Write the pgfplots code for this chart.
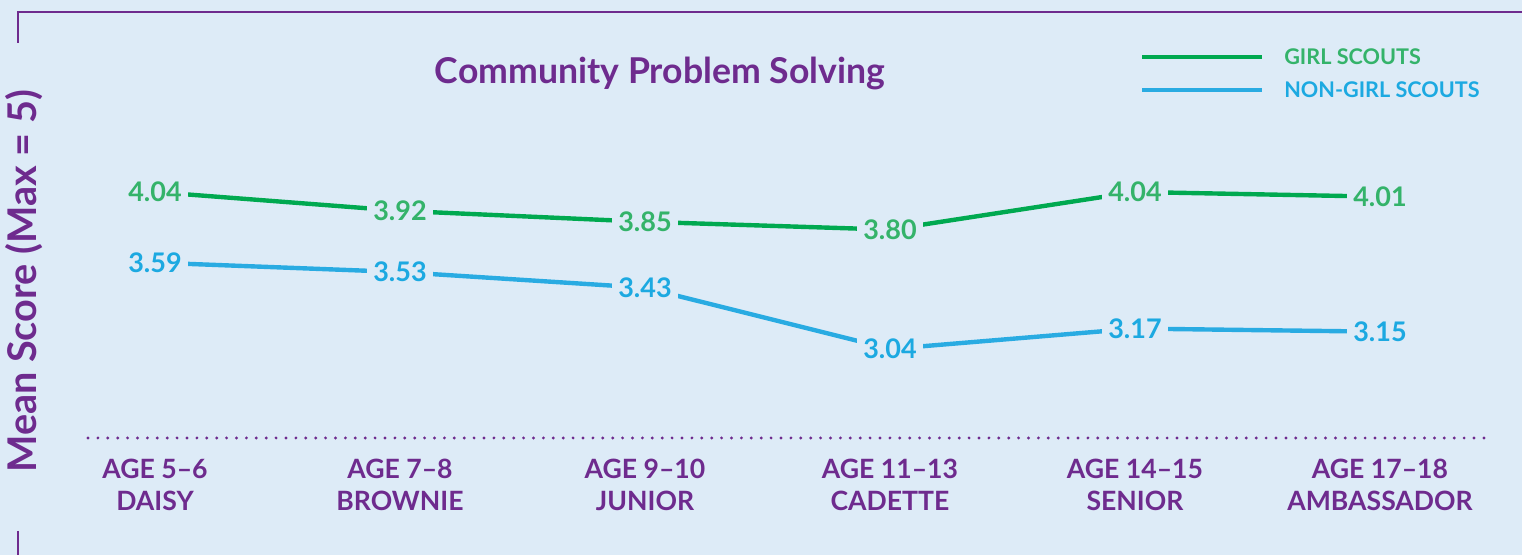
\documentclass[border=0pt]{standalone}
\usepackage{fontspec}
\setmainfont{Lato}
\usepackage{pgfplots}
\pgfplotsset{compat=1.18}
\definecolor{bg}{HTML}{DDEBF7}
\definecolor{gspurple}{HTML}{6E2B8E}
\definecolor{gsgreen}{HTML}{00A950}
\definecolor{gsgreentext}{HTML}{34B36A}
\definecolor{gsblue}{HTML}{29ABE2}
\definecolor{gsbluetext}{HTML}{1CA9E1}
\begin{document}
\begin{tikzpicture}[x=1pt,y=1pt]
\fill[bg] (-44,-58.5) rectangle (717,219);
\draw[gspurple, line width=1pt] (-34.85,197.6) -- (-34.85,213.15) -- (717,213.15);
\draw[gspurple, line width=1pt] (-34.85,-46.5) -- (-34.85,-58.5);
\begin{axis}[
  at={(0,0)}, anchor=south west,
  scale only axis, width=701pt, height=191pt,
  xmin=-0.2735, xmax=5.449, ymin=2.473, ymax=4.906,
  clip=false,
  axis x line*=bottom, axis y line*=left,
  x axis line style={gspurple, line width=1.6pt, line cap=round, dash pattern=on 0pt off 4.95pt, -},
  y axis line style={draw=none},
  ytick=\empty,
  xtick={0,1,2,3,4,5},
  xticklabels={{AGE 5--6\\DAISY},{AGE 7--8\\BROWNIE},{AGE 9--10\\JUNIOR},{AGE 11--13\\CADETTE},{AGE 14--15\\SENIOR},{AGE 17--18\\AMBASSADOR}},
  major tick length=0pt,
  xtick style={draw=none},
  xticklabel style={align=center, font=\fontsize{13.3}{16}\selectfont\bfseries, text=gspurple, anchor=north, inner sep=0pt, yshift=-10.5pt},
  ylabel={Mean Score (Max = 5)},
  ylabel style={at={(axis description cs:-0.0364,0.41)}, anchor=base, font=\fontsize{19.8}{22}\selectfont\bfseries, text=gspurple, inner sep=0pt},
  title={Community Problem Solving},
  every axis title shift=0pt,
  title style={at={(axis description cs:0.408,0.9288)}, anchor=base, yshift=0pt, font=\fontsize{17.8}{20}\selectfont\bfseries, text=gspurple, inner sep=0pt},
  legend style={at={(axis description cs:0.750,0.954)}, anchor=west, draw=none, fill=none, inner sep=0pt,
     font=\fontsize{10.8}{12}\selectfont\bfseries, row sep=8.65pt, column sep=10pt,
     nodes={inner sep=0pt, text height=7.7pt, text depth=0pt}},
  legend cell align=left,
  legend image code/.code={\draw[#1, line width=2.2pt] (0pt,0pt) -- (60pt,0pt);},
  point meta=explicit symbolic,
  nodes near coords,
  every node near coord/.append style={anchor=center, fill=bg, inner xsep=3pt, inner ysep=1pt, font=\fontsize{13.5}{16}\selectfont\bfseries},
]
\addplot[gsgreen, line width=2.2pt, every node near coord/.append style={text=gsgreentext}]
  coordinates {(0,4.04) [4.04] (1,3.92) [3.92] (2,3.85) [3.85] (3,3.80) [3.80] (4,4.04) [4.04] (5,4.01) [4.01]};
\addlegendentry{\textcolor{gsgreentext}{GIRL SCOUTS}}
\addplot[gsblue, line width=2.2pt, every node near coord/.append style={text=gsbluetext}]
  coordinates {(0,3.59) [3.59] (1,3.53) [3.53] (2,3.43) [3.43] (3,3.04) [3.04] (4,3.17) [3.17] (5,3.15) [3.15]};
\addlegendentry{\textcolor{gsbluetext}{NON-GIRL SCOUTS}}
\end{axis}
\pgfresetboundingbox
\path[use as bounding box] (-44,-58.5) rectangle (717,219);
\end{tikzpicture}
\end{document}
